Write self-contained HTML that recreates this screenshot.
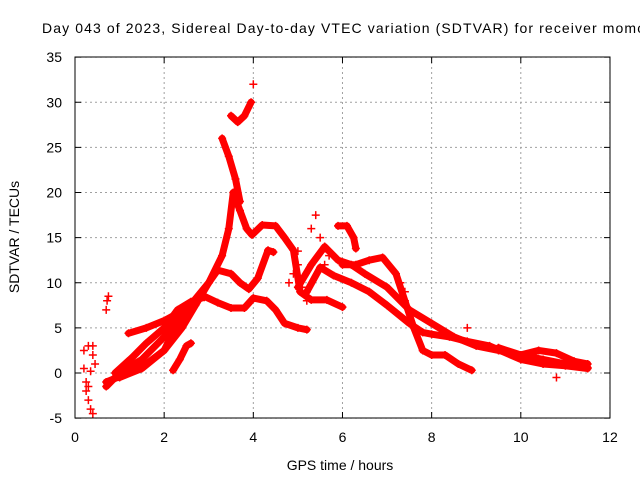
<!DOCTYPE html>
<html><head><meta charset="utf-8"><style>
body{margin:0;background:#fff;width:640px;height:480px;overflow:hidden}
svg{font-family:"Liberation Sans",sans-serif}
</style></head><body>
<svg width="640" height="480" id="c">
<text x="42" y="33" font-size="14" textLength="603" lengthAdjust="spacing">Day 043 of 2023, Sidereal Day-to-day VTEC variation (SDTVAR) for receiver momo</text>
<text transform="translate(19,237) rotate(-90)" font-size="14" text-anchor="middle">SDTVAR / TECUs</text>
<text x="340" y="470" font-size="14" text-anchor="middle">GPS time / hours</text>
<g id="grid"></g><g id="marks"></g>
<rect x="75" y="57" width="535" height="361" fill="none" stroke="#000" stroke-width="1"/>
</svg>
<script>
const xTicks=[0,2,4,6,8,10,12];
const yTicks=[-5,0,5,10,15,20,25,30,35];
const trackA=[[0.7,-1.5],[1.0,0],[1.5,1.5],[2.0,4],[2.5,7],[3.0,10],[3.3,13],[3.45,16],[3.55,20],[3.7,18],[3.85,16],[3.97,15.3],[4.2,16.4],[4.5,16.3],[4.7,15],[4.9,13.6],[5.05,9],[5.3,8.1],[5.65,8.1],[6.0,7.3]];
const trackB=[[0.7,-1],[1.2,0],[1.6,1.0],[2.0,2.5],[2.4,5],[2.7,7.5],[3.0,10],[3.2,11.4],[3.5,11],[3.7,10],[3.9,9.3],[4.1,10.5],[4.33,13.6],[4.45,13.4]];
const trackC=[[1.0,-0.5],[1.5,0.5],[2.0,2.5],[2.3,5.5],[2.6,7.8],[2.9,8.5],[3.2,7.8],[3.5,7.2],[3.8,7.2],[4.0,8.3],[4.3,8],[4.5,7],[4.7,5.5],[5.0,5],[5.2,4.8]];
const trackD=[[0.9,0],[1.3,1.8],[1.6,3.3],[2.0,5],[2.3,7],[2.6,7.9],[2.9,8.4]];
const trackD2=[[1.2,4.4],[1.6,5],[2.0,5.8],[2.3,6.6]];
const trackE=[[5.0,9.5],[5.3,12],[5.6,14],[5.9,12.5],[6.2,12],[6.5,11],[7.0,9.5],[7.5,7],[8.0,5.5],[8.5,4],[9.0,3],[9.5,2.5],[10,2],[10.5,1.5],[11,1],[11.5,0.6]];
const trackF=[[5.2,9],[5.5,11.7],[5.8,10.8],[6.2,10],[6.6,9],[7.0,7.5],[7.5,5.5],[7.8,4.5],[8.0,4.3],[8.4,4],[8.8,3.5],[9.3,3],[10,1.5],[10.5,1],[11,0.8],[11.5,0.5]];
const trackG=[[6.0,12],[6.3,12],[6.6,12.5],[6.9,12.8],[7.2,11],[7.4,8],[7.6,5],[7.8,2.5],[8.0,2],[8.3,2],[8.6,1],[8.9,0.3]];
const trackH=[[9.5,2.8],[10,2],[10.4,2.5],[10.8,2.2],[11.2,1.3],[11.5,1.0]];
const trackI=[[3.3,26],[3.45,24],[3.6,21.5],[3.7,19]];
const trackJ=[[3.5,28.5],[3.65,27.8],[3.8,28.5],[3.95,30]];
const trackK=[[2.2,0.3],[2.35,1.5],[2.5,3],[2.6,3.3]];
const trackL=[[5.9,16.3],[6.1,16.3],[6.25,15],[6.3,13.8]];
const tracks=[trackA,trackB,trackC,trackD,trackD2,trackE,trackF,trackG,trackH,trackI,trackJ,trackK,trackL];
const scatterT=[0.2,0.25,0.3,0.35,0.4,0.2,0.3,0.4,0.45,0.3,0.35,0.7,0.72,0.75,0.25,0.4,4.0,5.0,5.1,5.3,5.4,5.5,5.6,5.7,4.8,4.9,5.2,5.0,5.6,7.3,7.4,8.8,10.8];
const scatterV=[2.5,-2,-3,-4,-4.5,0.5,3,3,1,-1.5,0.2,7,8,8.5,-1,2,32,12,9.5,16,17.5,15,14,13,10,11,8,13.5,12,10,9,5,-0.5];
const X=t=>75+t*44.58, Y=v=>373-v*9.025;
const ns="http://www.w3.org/2000/svg";
const grid=document.getElementById('grid'), marks=document.getElementById('marks');
function mk(tag,attrs,parent){const e=document.createElementNS(ns,tag);for(const k in attrs)e.setAttribute(k,attrs[k]);parent.appendChild(e);return e;}
xTicks.forEach(t=>{
 const l=mk('line',{x1:X(t),x2:X(t),y1:57,y2:418,stroke:'#a0a0a0','stroke-dasharray':'2,3'},grid);
 
 
 mk('line',{x1:X(t),x2:X(t),y1:418,y2:412,stroke:'#000'},grid);
 mk('line',{x1:X(t),x2:X(t),y1:57,y2:63,stroke:'#000'},grid);
 const tx=mk('text',{x:X(t),y:442,'font-size':14,'text-anchor':'middle'},grid);tx.textContent=t;
 
 
});
yTicks.forEach(v=>{
 const l=mk('line',{x1:75,x2:610,y1:Y(v),y2:Y(v),stroke:'#a0a0a0','stroke-dasharray':'2,3'},grid);
 
 
 mk('line',{x1:75,x2:81,y1:Y(v),y2:Y(v),stroke:'#000'},grid);
 mk('line',{x1:604,x2:610,y1:Y(v),y2:Y(v),stroke:'#000'},grid);
 const tx=mk('text',{x:62,y:Y(v)+5,'font-size':14,'text-anchor':'end'},grid);tx.textContent=v;
 
 
});
function plus(t,v){
 const x=X(t),y=Y(v);
 const p=mk('path',{d:`M${x-4},${y}H${x+4}M${x},${y-4}V${y+4}`,stroke:'#f00','stroke-width':1.5,fill:'none'},marks);
 
 
}
tracks.forEach(tr=>{
 const pl=mk('polyline',{points:tr.map(p=>X(p[0])+','+Y(p[1])).join(' '),fill:'none',stroke:'#f00','stroke-width':7,'stroke-linejoin':'round','stroke-linecap':'round'},marks);
 
 
 tr.forEach(p=>plus(p[0],p[1]));
});
scatterT.forEach((t,i)=>plus(t,scatterV[i]));
</script>
</body></html>
